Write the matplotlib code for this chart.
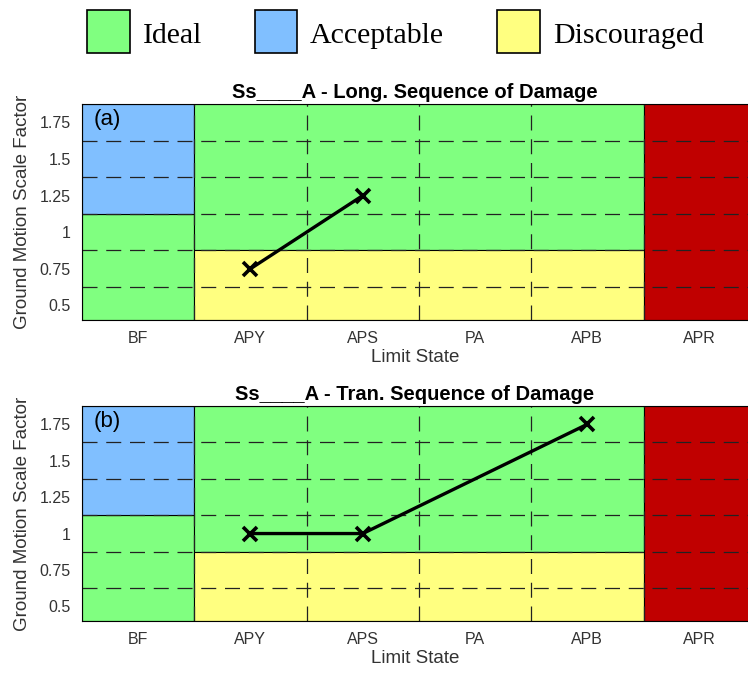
import matplotlib
matplotlib.use("Agg")
import matplotlib.pyplot as plt
from matplotlib.patches import Rectangle

# Limit states along the x axis
limit_states = ["BF", "APY", "APS", "PA", "APB", "APR"]

# Performance zones: x extent (in category units), y extent (scale factor), class
zone_x0 = [0.5, 0.5, 1.5, 1.5, 5.5]
zone_x1 = [1.5, 1.5, 5.5, 5.5, 6.5]
zone_y0 = [0.4, 1.125, 0.875, 0.4, 0.4]
zone_y1 = [1.125, 1.875, 1.875, 0.875, 1.875]
zone_kind = ["Ideal", "Acceptable", "Ideal", "Discouraged", "Collapse"]

zone_colors = {
    "Ideal": "#80FF80",
    "Acceptable": "#80BFFF",
    "Discouraged": "#FFFF80",
    "Collapse": "#C00000",
}

# Scale factor at which each limit state is first reached
long_states = ["APY", "APS"]
long_sf = [0.75, 1.25]
tran_states = ["APY", "APS", "APB"]
tran_sf = [1.0, 1.0, 1.75]

y_ticks = [0.5, 0.75, 1.0, 1.25, 1.5, 1.75]
y_ticklabels = ["0.5", "0.75", "1", "1.25", "1.5", "1.75"]
grid_y = [0.625, 0.875, 1.125, 1.375, 1.625]
grid_x = [1.5, 2.5, 3.5, 4.5, 5.5]

panels = [
    ("Ss____A - Long. Sequence of Damage", "(a)", long_states, long_sf),
    ("Ss____A - Tran. Sequence of Damage", "(b)", tran_states, tran_sf),
]

W, H = 748, 673
fig = plt.figure(figsize=(W / 100, H / 100), dpi=100)

sans = ["Liberation Sans", "DejaVu Sans"]
tick_color = "#333333"

axes_px = [(82, 104, 748, 320), (82, 406, 748, 621)]

for (title, tag, states, sf), (l, t, r, b) in zip(panels, axes_px):
    ax = fig.add_axes([l / W, 1 - b / H, (r - l) / W, (b - t) / H])
    ax.set_xlim(0.5, 6.43)
    ax.set_ylim(0.4, 1.875)

    for x0, x1, y0, y1, kind in zip(zone_x0, zone_x1, zone_y0, zone_y1, zone_kind):
        ax.bar((x0 + x1) / 2, y1 - y0, width=x1 - x0, bottom=y0,
               color=zone_colors[kind], edgecolor="black", linewidth=0.8,
               zorder=1)

    for gy in grid_y:
        ax.axhline(gy, color="#222222", linewidth=0.9, dashes=(12, 7), zorder=2)
    for gx in grid_x:
        ax.axvline(gx, color="#222222", linewidth=0.9, dashes=(12, 7), zorder=2)

    xs = [limit_states.index(s) + 1 for s in states]
    ax.plot(xs, sf, color="black", linewidth=2.4, marker="x",
            markersize=10, markeredgewidth=2.6, zorder=4)

    ax.set_xticks(range(1, len(limit_states) + 1))
    ax.set_xticklabels(limit_states, fontsize=11.5, color=tick_color,
                       family=sans)
    ax.set_yticks(y_ticks)
    ax.set_yticklabels(y_ticklabels, fontsize=11.5, color=tick_color,
                       family=sans)
    ax.tick_params(length=0, pad=8)

    ax.set_xlabel("Limit State", fontsize=13.5, color=tick_color,
                  family=sans, labelpad=2)
    ax.set_ylabel("Ground Motion Scale Factor", fontsize=13.5,
                  color=tick_color, family=sans, labelpad=6)
    ax.set_title(title, fontsize=14.5, fontweight="bold", family=sans, pad=4)

    ax.text(0.6, 1.84, tag, fontsize=16, family=sans, ha="left", va="top",
            zorder=5)

    ax.spines["right"].set_visible(False)
    for s in ("left", "top", "bottom"):
        ax.spines[s].set_linewidth(0.8)
        ax.spines[s].set_zorder(5)

# Colour key across the top
key_items = [("Ideal", "Ideal", 87, 130), ("Acceptable", "Acceptable", 255, 297),
             ("Discouraged", "Discouraged", 497, 540)]
for label, kind, x0, x1 in key_items:
    fig.patches.append(Rectangle((x0 / W, 1 - 53 / H), (x1 - x0) / W, 43 / H,
                                 transform=fig.transFigure,
                                 facecolor=zone_colors[kind],
                                 edgecolor="black", linewidth=1.2))
    fig.text((x1 + 13) / W, 1 - 43 / H, label, fontsize=21.5,
             family=["Liberation Serif", "DejaVu Serif"], ha="left",
             va="baseline")

fig.savefig("out.png", dpi=100)
